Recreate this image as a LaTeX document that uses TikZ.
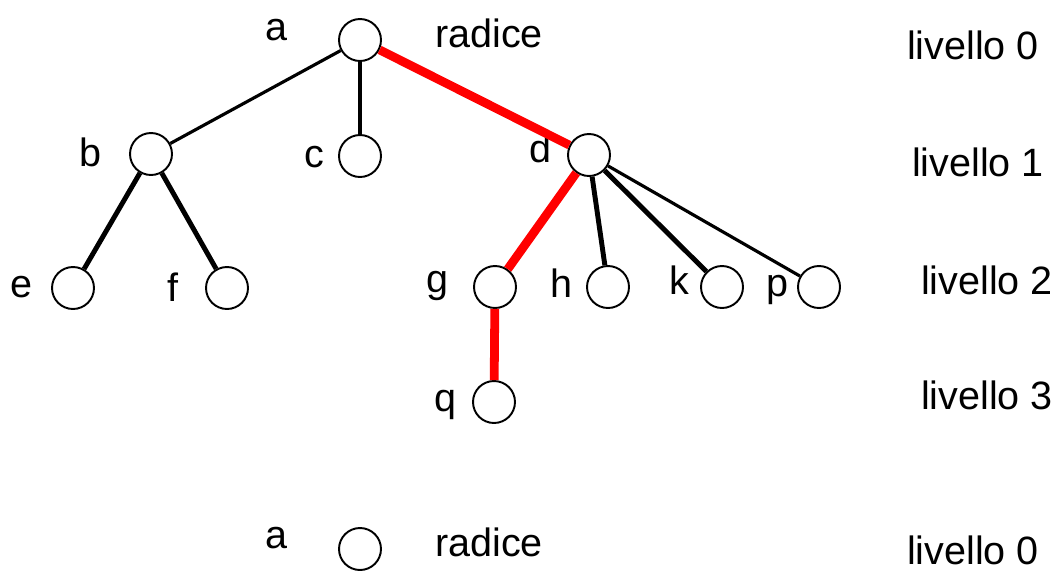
\documentclass[tikz,border=0pt]{standalone}
\usepackage{fontspec}
\setmainfont{Liberation Sans}
\usetikzlibrary{positioning}

\begin{document}
\begin{tikzpicture}[x=0.02cm, y=-0.02cm,
    nodo/.style={circle, draw, line width=1.1pt, minimum size=0.84cm, inner sep=0pt},
    lab/.style={font=\fontsize{22.5}{26}\selectfont, inner sep=0pt},
    ramo/.style={line width=1.8pt},
    ramof/.style={line width=2.8pt},
    cammino/.style={line width=5pt, red}]
    \useasboundingbox (0,0) rectangle (1058,572);
    % nodi dell'albero
    \node [nodo] (a) at (360,40) {};
    \node [nodo] (b) at (151,154) {};
    \node [nodo] (c) at (360,156) {};
    \node [nodo] (d) at (589,155) {};
    \node [nodo] (e) at (73,288) {};
    \node [nodo] (f) at (227,288) {};
    \node [nodo] (g) at (495,287) {};
    \node [nodo] (h) at (608,287) {};
    \node [nodo] (k) at (722,287) {};
    \node [nodo] (p) at (819,287) {};
    \node [nodo] (q) at (494,402) {};
    % etichette
    \node [lab] (la) at (276,30) {a};
    \node [lab] (lrad) at (489,33) {radice};
    \node [lab] (lb) at (90,152) {b};
    \node [lab] (lc) at (314,157) {c};
    \node [lab] (ld) at (540,148) {d};
    \node [lab] (le) at (21,287) {e};
    \node [lab] (lf) at (173,287) {f};
    \node [lab] (lg) at (437,286) {g};
    \node [lab] (lh) at (561,283) {h};
    \node [lab] (lk) at (679,280) {k};
    \node [lab] (lp) at (777,290) {p};
    \node [lab] (lq) at (445,405) {q};
    \node [lab] (liv0) at (973,45) {livello 0};
    \node [lab] (liv1) at (978,162) {livello 1};
    \node [lab] (liv2) at (987,280) {livello 2};
    \node [lab] (liv3) at (987,395) {livello 3};
    % rami
    \draw [ramo] (a) -- (b);
    \draw [ramof] (a) -- (c);
    \draw [ramof] (b) -- (e);
    \draw [ramof] (b) -- (f);
    \draw [ramof] (d) -- (h);
    \draw [ramof] (d) -- (k);
    \draw [ramo] (d) -- (p);
    \draw [cammino] (a) -- (d);
    \draw [cammino] (d) -- (g);
    \draw [cammino] (g) -- (q);
    % legenda
    \node [nodo] (ra) at (360,549) {};
    \node [lab] (lra) at (276,538) {a};
    \node [lab] (lrrad) at (489,542) {radice};
    \node [lab] (lrliv) at (973,550) {livello 0};
\end{tikzpicture}
\end{document}
